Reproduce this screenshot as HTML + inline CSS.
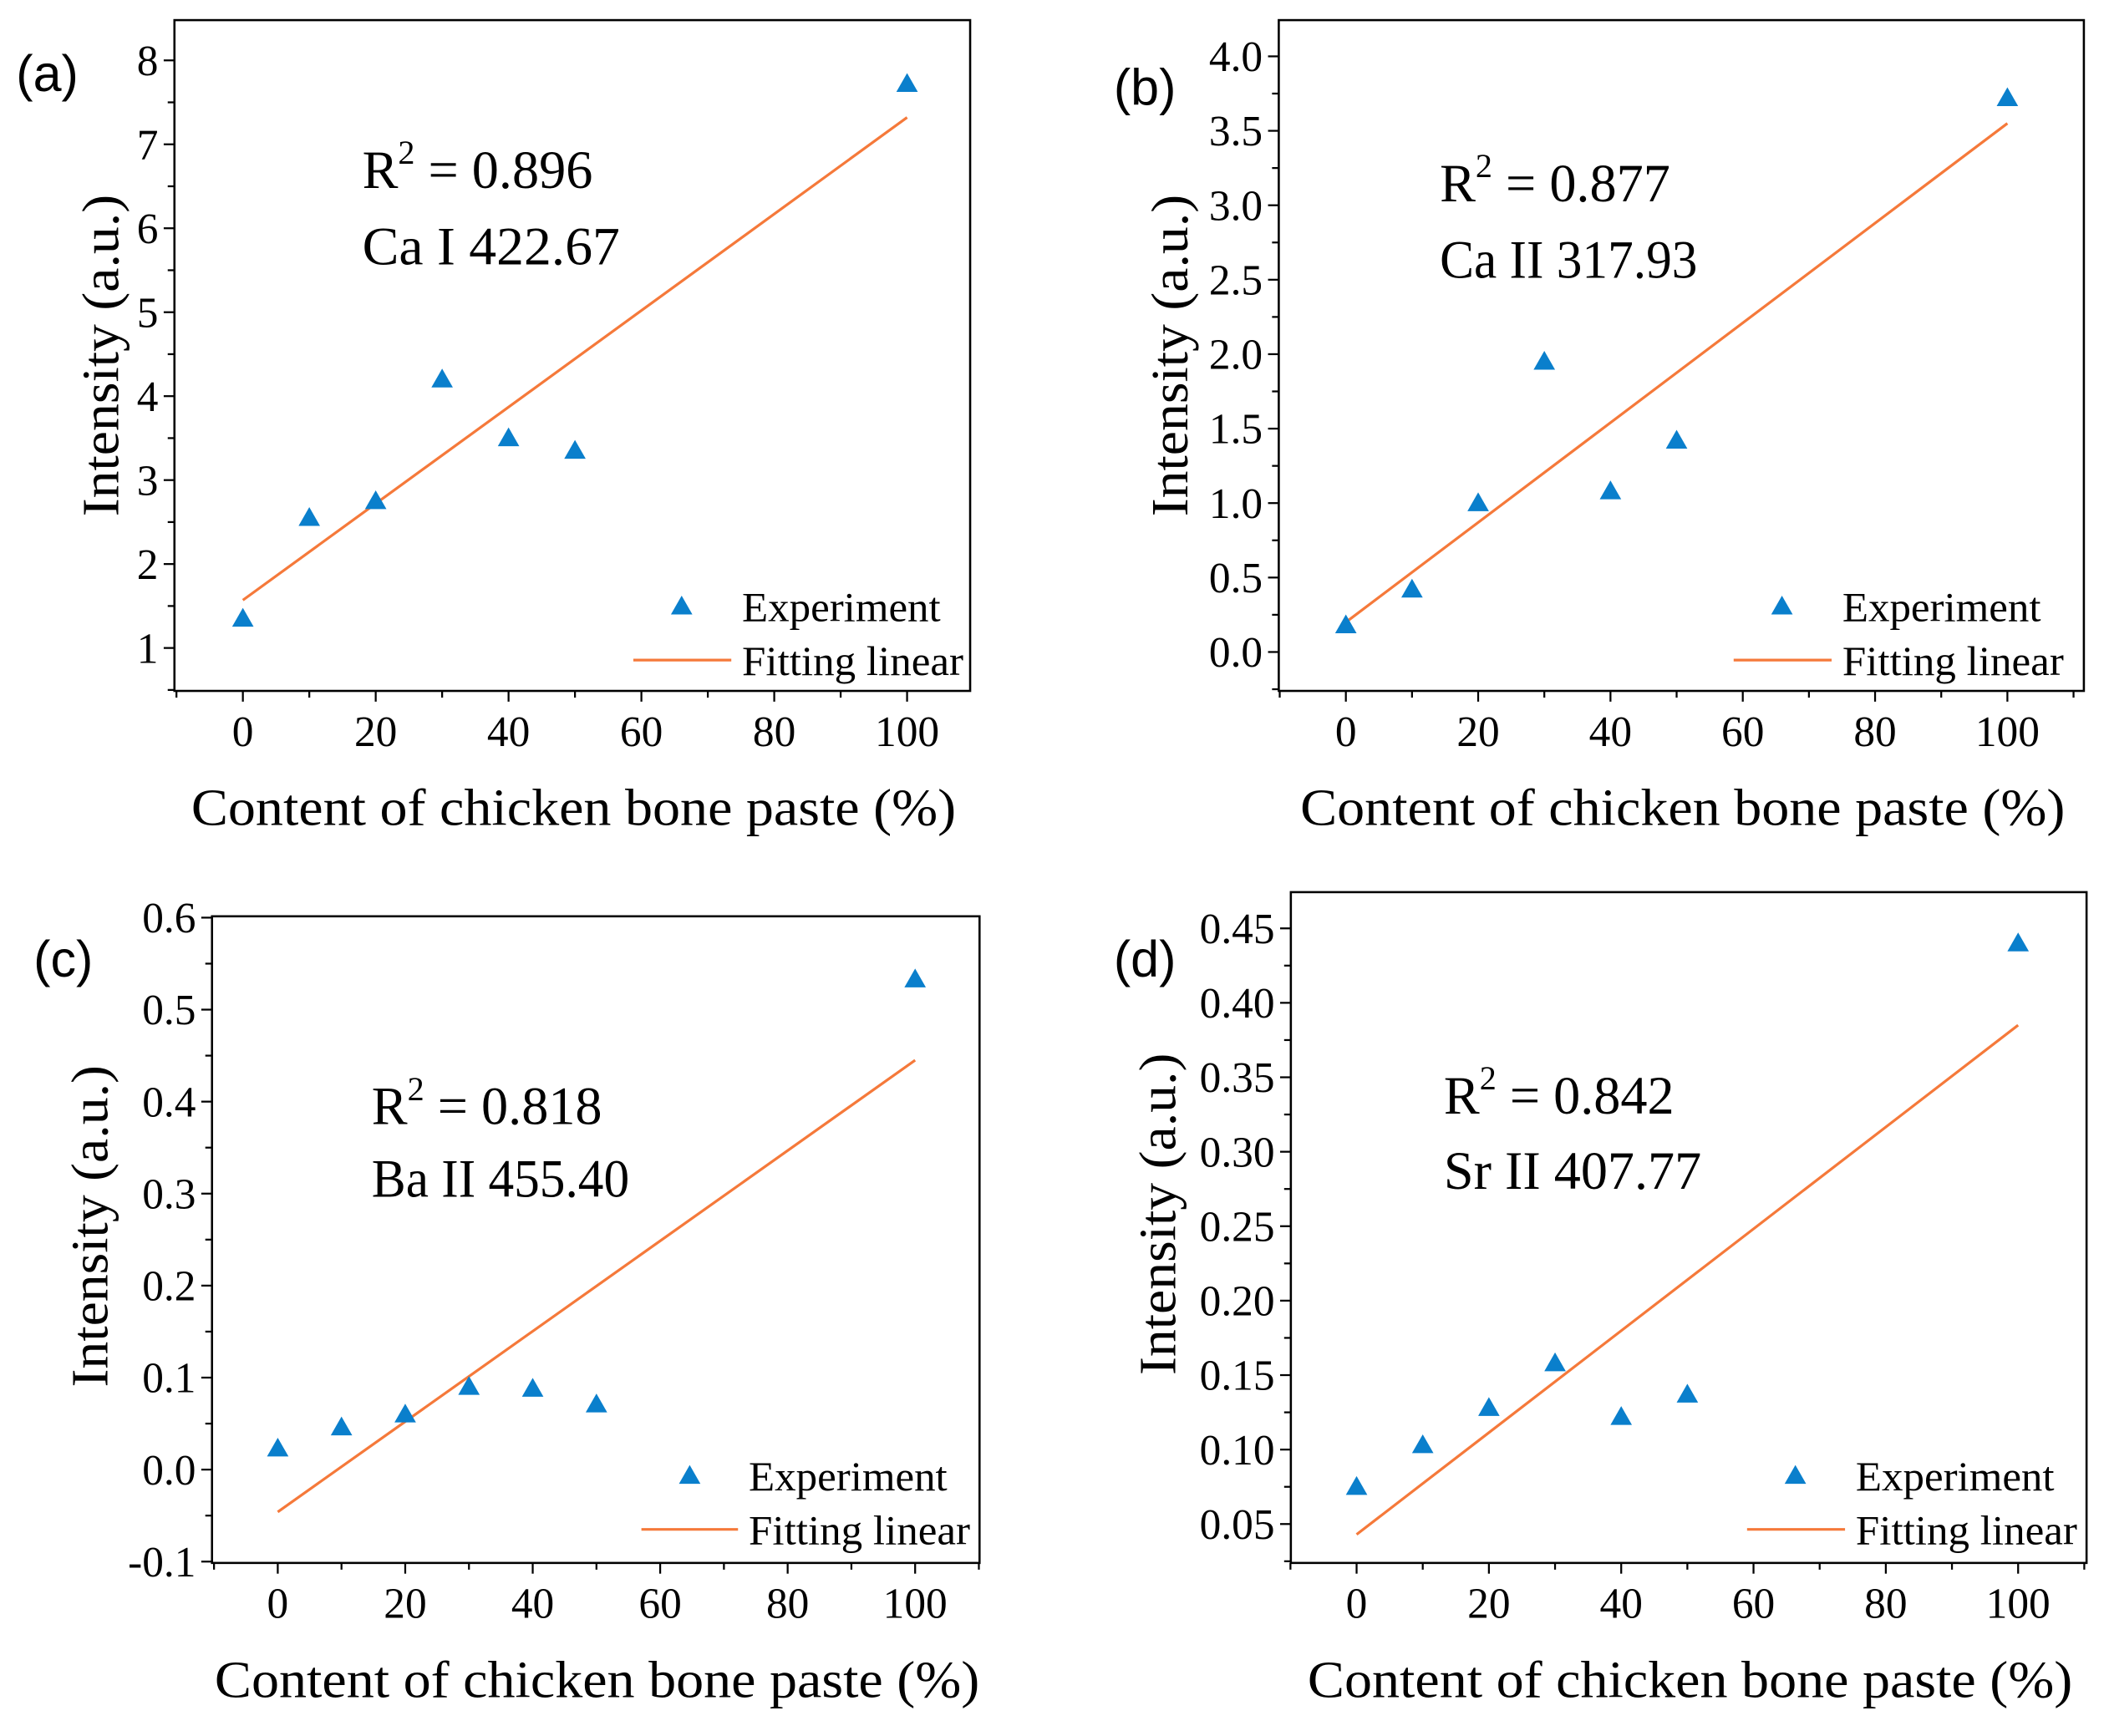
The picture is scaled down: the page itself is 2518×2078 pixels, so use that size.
<!DOCTYPE html>
<html><head><meta charset="utf-8"><style>
html,body{margin:0;padding:0;background:#fff;}
svg{display:block;}
text{font-family:"Liberation Serif",serif;fill:#000;}
.lab{font-family:"Liberation Sans",sans-serif;}
</style></head><body>
<svg id="fig" width="2518" height="2078" viewBox="0 0 1568 1294" preserveAspectRatio="none" xmlns="http://www.w3.org/2000/svg"></svg>
<script>
const xCats = [0, 10, 20, 30, 40, 50, 100];
const xTicks = [0, 20, 40, 60, 80, 100];
const aVals = [1.35, 2.55, 2.75, 4.2, 3.5, 3.35, 7.72];
const aFit = [1.57, 7.32];
const aTicks = [1, 2, 3, 4, 5, 6, 7, 8];
const aTickLabels = ["1","2","3","4","5","6","7","8"];
const bVals = [0.18, 0.42, 1.0, 1.95, 1.08, 1.42, 3.72];
const bFit = [0.2, 3.55];
const bTicks = [0,0.5,1,1.5,2,2.5,3,3.5,4];
const bTickLabels = ["0.0","0.5","1.0","1.5","2.0","2.5","3.0","3.5","4.0"];
const cVals = [0.023, 0.046, 0.06, 0.09, 0.088, 0.071, 0.533];
const cFit = [-0.046, 0.445];
const cTicks = [-0.1,0,0.1,0.2,0.3,0.4,0.5,0.6];
const cTickLabels = ["-0.1","0.0","0.1","0.2","0.3","0.4","0.5","0.6"];
const dVals = [0.075, 0.103, 0.128, 0.158, 0.122, 0.137, 0.44];
const dFit = [0.043, 0.385];
const dTicks = [0.05,0.1,0.15,0.2,0.25,0.3,0.35,0.4,0.45];
const dTickLabels = ["0.05","0.10","0.15","0.20","0.25","0.30","0.35","0.40","0.45"];

const NS = "http://www.w3.org/2000/svg";
const svg = document.getElementById('fig');
function mk(tag, attrs, parent, txt){
  const e = document.createElementNS(NS, tag);
  for (const k in attrs) e.setAttribute(k, attrs[k]);
  if (txt !== undefined) e.textContent = txt;
  (parent || svg).appendChild(e);
  return e;
}
const panels = [
 {id:'a', box:[130,15,723,515], x0:181, x100:676, yv:[1,8], yp:[483,45], vals:aVals, fit:aFit, ticks:aTicks, tl:aTickLabels, minorStep:0.5,
  label:[12,68], r2:'0.896', line:'Ca I 422.67', tx:270, ty:[140,197], leg:[508,452,472,545,553], ytitleX:88},
 {id:'b', box:[953,15,1553,515], x0:1003, x100:1496, yv:[0,4], yp:[486,42], vals:bVals, fit:bFit, ticks:bTicks, tl:bTickLabels, minorStep:0.25,
  label:[830,78], r2:'0.877', line:'Ca II 317.93', tx:1073, ty:[150,207], leg:[1328,452,1292,1365,1373], ytitleX:885},
 {id:'c', box:[158,683,730,1165], x0:207, x100:682, yv:[-0.1,0.6], yp:[1164,684], vals:cVals, fit:cFit, ticks:cTicks, tl:cTickLabels, minorStep:0.05,
  label:[25,728], r2:'0.818', line:'Ba II 455.40', tx:277, ty:[838,892], leg:[514,1100,478,550,558], ytitleX:80},
 {id:'d', box:[962,665,1555,1165], x0:1011, x100:1504, yv:[0.05,0.45], yp:[1136,692], vals:dVals, fit:dFit, ticks:dTicks, tl:dTickLabels, minorStep:0.025,
  label:[830,728], r2:'0.842', line:'Sr II 407.77', tx:1076, ty:[830,886], leg:[1338,1100,1302,1375,1383], ytitleX:876}
];
function tri(g, cx, cy, name){
  const t = mk('polygon', {points:`${cx},${cy-8} ${cx-8},${cy+6} ${cx+8},${cy+6}`, fill:'#0a7fcc'}, g);
  
  
  return t;
}
panels.forEach(p => {
  const g = mk('g', {});
  
  
  const [L,T,R,B] = p.box;
  const X = v => p.x0 + (p.x100 - p.x0) * v / 100;
  const Y = v => p.yp[0] + (p.yp[1] - p.yp[0]) * (v - p.yv[0]) / (p.yv[1] - p.yv[0]);
  const frame = mk('rect', {x:L, y:T, width:R-L, height:B-T, fill:'none', stroke:'#000', 'stroke-width':1.6}, g);
  
  
  for (let v = -10; v <= 110; v += 10) {
    const x = X(v); if (x < L - 0.5 || x > R + 0.5) continue;
    const major = v % 20 === 0 && v >= 0 && v <= 100;
    mk('line', {x1:x, y1:B, x2:x, y2:B + (major ? 8 : 5), stroke:'#000', 'stroke-width':1.4}, g);
  }
  xTicks.forEach(v => {
    const t = mk('text', {x:X(v), y:B + 41, 'text-anchor':'middle', 'font-size':32}, g, String(v));
    
    
  });
  const lo = p.ticks[0] - p.minorStep * 2, hi = p.ticks[p.ticks.length-1] + p.minorStep * 2;
  for (let v = lo; v <= hi + 1e-9; v += p.minorStep) {
    const y = Y(v); if (y < T - 0.5 || y > B + 0.5) continue;
    const major = p.ticks.some(t => Math.abs(t - v) < 1e-6);
    mk('line', {x1:L, y1:y, x2:L - (major ? 8 : 5), y2:y, stroke:'#000', 'stroke-width':1.4}, g);
  }
  p.ticks.forEach((v,i) => {
    const t = mk('text', {x:L - 12, y:Y(v) + 11, 'text-anchor':'end', 'font-size':32}, g, p.tl[i]);
    
    
  });
  const fl = mk('line', {x1:X(0), y1:Y(p.fit[0]), x2:X(100), y2:Y(p.fit[1]), stroke:'#f5793a', 'stroke-width':2}, g);
  
  
  xCats.forEach((c,i) => tri(g, X(c), Y(p.vals[i]), 'data-point'));
  const cx = (L + R) / 2;
  const xt = mk('text', {x:cx + 1, y:B + 100, 'text-anchor':'middle', 'font-size':39, textLength:570, lengthAdjust:'spacingAndGlyphs'}, g, 'Content of chicken bone paste (%)');
  
  
  const cy = (T + B) / 2 - (p.id==='a'||p.id==='b' ? 0 : 10);
  const yt = mk('text', {x:0, y:0, 'text-anchor':'middle', 'font-size':39, textLength:240, lengthAdjust:'spacingAndGlyphs', transform:`translate(${p.ytitleX},${cy}) rotate(-90)`}, g, 'Intensity (a.u.)');
  
  
  const pl = mk('text', {x:p.label[0], y:p.label[1], 'font-size':38, class:'lab'}, g, '(' + p.id + ')');
  
  
  const r = mk('text', {x:p.tx, y:p.ty[0], 'font-size':40}, g);
  
  
  mk('tspan', {}, r, 'R');
  mk('tspan', {'font-size':25, dy:-18}, r, '2');
  mk('tspan', {dy:18}, r, ' = ' + p.r2);
  const ln = mk('text', {x:p.tx, y:p.ty[1], 'font-size':40, textLength:192, lengthAdjust:'spacingAndGlyphs'}, g, p.line);
  
  
  const [tx, ty, lx1, lx2, txt] = p.leg;
  const lg = mk('g', {}, g);
  
  
  tri(lg, tx, ty, 'legend-marker-experiment');
  const e1 = mk('text', {x:txt, y:ty + 11, 'font-size':31, textLength:148, lengthAdjust:'spacingAndGlyphs'}, lg, 'Experiment');
  
  
  mk('line', {x1:lx1, y1:ty + 40, x2:lx2, y2:ty + 40, stroke:'#f5793a', 'stroke-width':2}, lg);
  const e2 = mk('text', {x:txt, y:ty + 51, 'font-size':31, textLength:165, lengthAdjust:'spacingAndGlyphs'}, lg, 'Fitting linear');
  
  
});
</script>
</body></html>
